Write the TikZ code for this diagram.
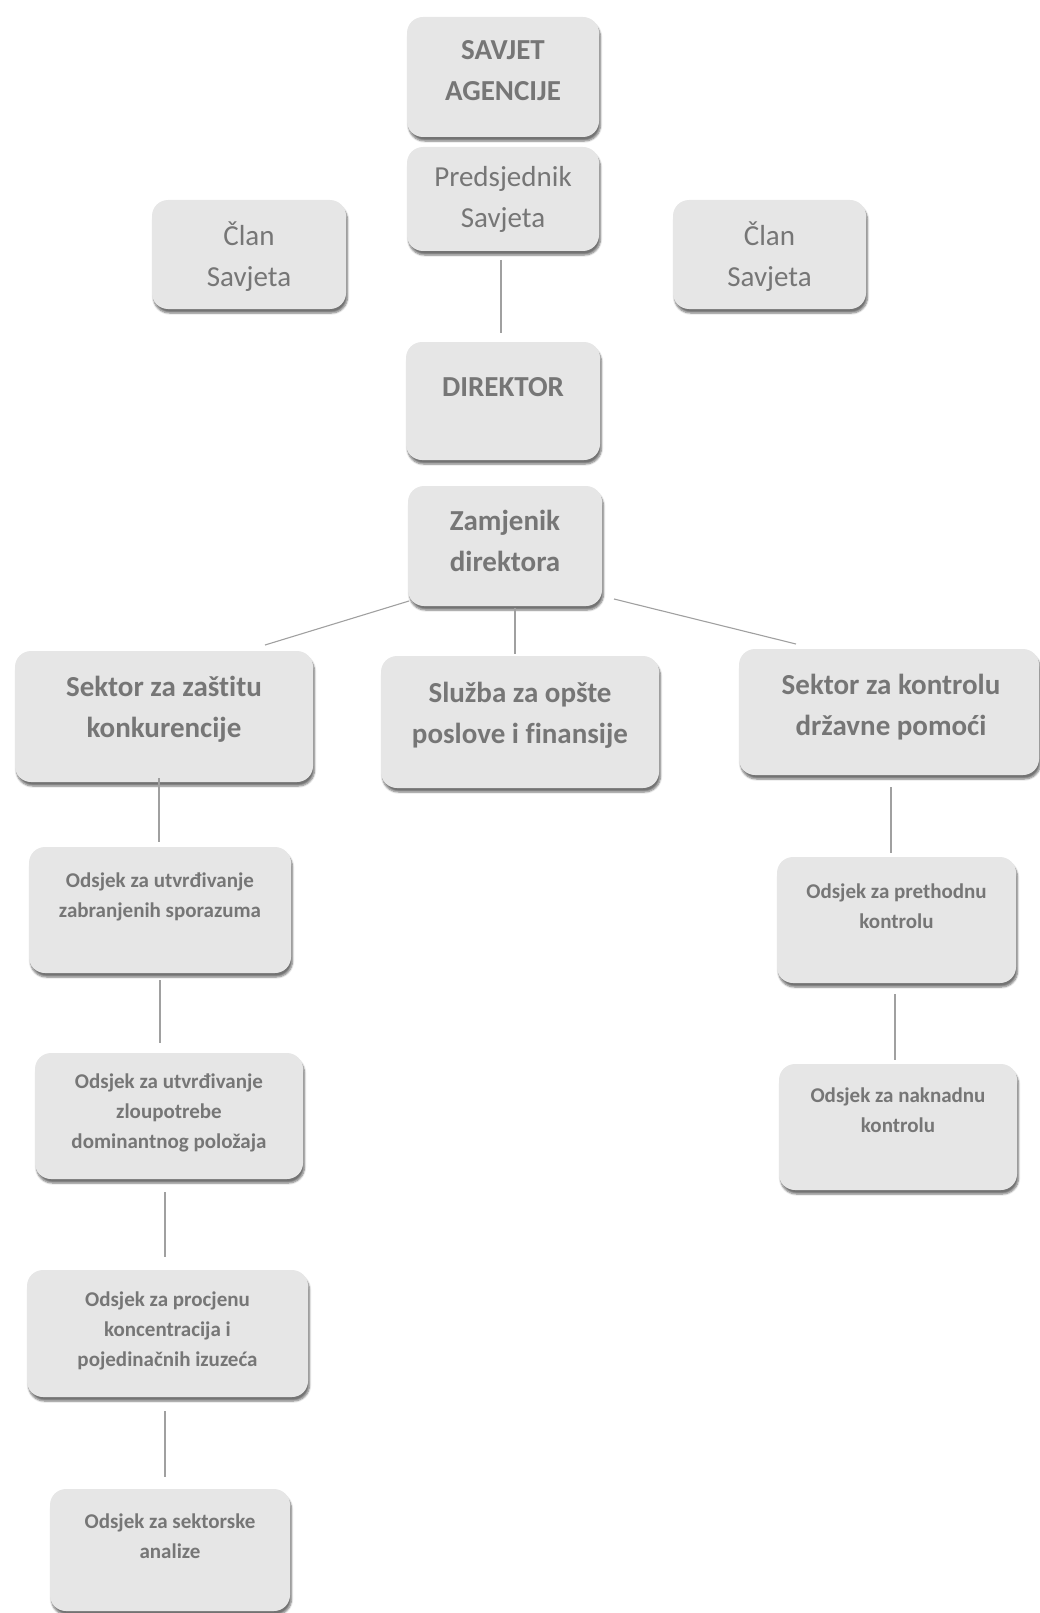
\documentclass[tikz,border=0pt]{standalone}
\usepackage{fontspec}
\setmainfont{Carlito}[Ligatures={NoCommon}]
\usetikzlibrary{shadows.blur}
\definecolor{boxfill}{RGB}{230,230,230}
\definecolor{txtgray}{RGB}{118,118,118}
\definecolor{linegray}{RGB}{160,160,160}
\tikzset{
  box/.style={draw=none, fill=boxfill, rounded corners=16pt, inner sep=0pt,
    blur shadow={shadow xshift=1.5pt, shadow yshift=-4pt, shadow blur steps=6, shadow opacity=55}},
  bigb/.style={text=txtgray, align=center, inner sep=0pt, anchor=base, font=\fontsize{29}{41}\selectfont\bfseries},
  bigr/.style={text=txtgray, align=center, inner sep=0pt, anchor=base, font=\fontsize{29}{41}\selectfont},
  small/.style={text=txtgray, align=center, inner sep=0pt, anchor=base, font=\fontsize{21}{30}\selectfont\bfseries},
  conn/.style={draw=linegray, line width=1.1pt}
}
\newcommand{\bx}[5]{\node[box, minimum width=#4pt, minimum height=#5pt] (#1) at (#2,#3) {};}
\begin{document}
\begin{tikzpicture}[x=1pt,y=-1pt]
\useasboundingbox (0,0) rectangle (1040,1613);
% boxes
\bx{sav}{503}{77}{192}{120}
\bx{pred}{503}{199}{192}{104}
\bx{clanL}{249}{254.5}{194}{109}
\bx{clanR}{769.5}{254.5}{193}{109}
\bx{dir}{503}{401}{194}{118}
\bx{zam}{505}{546}{194}{120}
\bx{sz}{164}{716.5}{298}{131}
\bx{sl}{520}{722}{278}{132}
\bx{sk}{889}{712}{300}{126}
\bx{oa}{160}{910}{262}{126}
\bx{ob}{169}{1116}{268}{126}
\bx{oc}{167.5}{1333.5}{281}{127}
\bx{od}{170}{1550}{240}{122}
\bx{pa}{896.5}{920}{239}{126}
\bx{pb}{898}{1127}{238}{126}
% texts (anchor = baseline of last line)
\node[bigb] (t-sav) at (503,101) {SAVJET\\AGENCIJE};
\node[bigr] (t-pred) at (503,228) {Predsjednik\\Savjeta};
\node[bigr] (t-clanL) at (249,287) {Član\\Savjeta};
\node[bigr] (t-clanR) at (769.5,287) {Član\\Savjeta};
\node[bigb] (t-dir) at (503,396) {DIREKTOR};
\node[bigb] (t-zam) at (505,571) {Zamjenik\\direktora};
\node[bigb] (t-sz) at (164,737) {Sektor za zaštitu\\konkurencije};
\node[bigb] (t-sl) at (520,743) {Služba za opšte\\poslove i finansije};
\node[bigb] (t-sk) at (891,735) {Sektor za kontrolu\\državne pomoći};
\node[small] (t-oa) at (160,917) {Odsjek za utvrđivanje\\zabranjenih sporazuma};
\node[small] (t-ob) at (169,1148) {Odsjek za utvrđivanje\\zloupotrebe\\dominantnog položaja};
\node[small] (t-oc) at (167.5,1366) {Odsjek za procjenu\\koncentracija i\\pojedinačnih izuzeća};
\node[small] (t-od) at (170,1558) {Odsjek za sektorske\\analize};
\node[small] (t-pa) at (896.5,928) {Odsjek za prethodnu\\kontrolu};
\node[small] (t-pb) at (898,1132) {Odsjek za naknadnu\\kontrolu};
% connector end points
\coordinate (pred-b) at (501,260);
\coordinate (dir-t) at (501,333);
\coordinate (zam-l) at (409,601);
\coordinate (sz-t) at (265,645);
\coordinate (zam-m) at (515,608);
\coordinate (sl-t) at (515,654);
\coordinate (zam-r) at (614,599);
\coordinate (sk-t) at (796,644);
\coordinate (sz-b) at (159,778);
\coordinate (oa-t) at (159,842);
\coordinate (oa-b) at (160,980);
\coordinate (ob-t) at (160,1043);
\coordinate (ob-b) at (165,1192);
\coordinate (oc-t) at (165,1257);
\coordinate (oc-b) at (165,1411);
\coordinate (od-t) at (165,1477);
\coordinate (sk-b) at (891,787);
\coordinate (pa-t) at (891,853);
\coordinate (pa-b) at (895,994);
\coordinate (pb-t) at (895,1060);
% connectors
\draw[conn] (pred-b) -- (dir-t);
\draw[conn] (zam-l) -- (sz-t);
\draw[conn] (zam-m) -- (sl-t);
\draw[conn] (zam-r) -- (sk-t);
\draw[conn] (sz-b) -- (oa-t);
\draw[conn] (oa-b) -- (ob-t);
\draw[conn] (ob-b) -- (oc-t);
\draw[conn] (oc-b) -- (od-t);
\draw[conn] (sk-b) -- (pa-t);
\draw[conn] (pa-b) -- (pb-t);
\end{tikzpicture}
\end{document}
